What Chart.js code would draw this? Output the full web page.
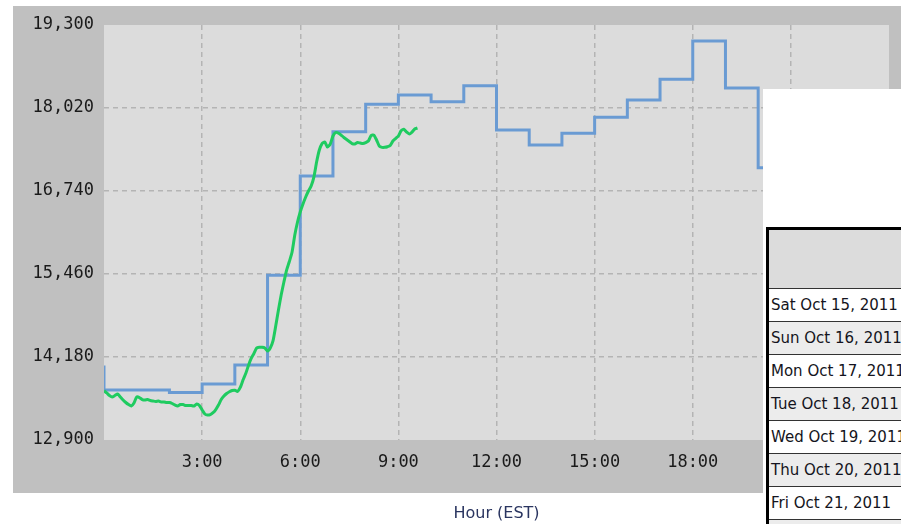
<!DOCTYPE html>
<html>
<head>
<meta charset="utf-8">
<script src="https://cdn.jsdelivr.net/npm/chart.js@4.4.1/dist/chart.umd.min.js"></script>
<style>
  html, body { margin:0; padding:0; background:#fff; }
  body { width:901px; height:524px; overflow:hidden; position:relative; }
  #c { position:absolute; left:0; top:0; }
  #box { position:absolute; left:763px; top:89px; width:200px; height:440px; background:#fff; }
  #tbl { position:absolute; left:3px; top:138px; width:190px; border-top:3px solid #000; border-left:3px solid #000;
         font-family:"DejaVu Sans", sans-serif; font-size:15px; color:#141420; }
  #tbl .hd { height:58px; background:#dcdcdc; border-bottom:1px solid #333; }
  #tbl .r { height:32px; line-height:32px; border-bottom:1px solid #333; padding-left:2px; white-space:nowrap; }
  #tbl .r.alt { background:#ececec; }
</style>
</head>
<body>
<canvas id="c" width="901" height="524"></canvas>
<div id="box"><div id="tbl"></div></div>
<script>
// ---- data ----
const blueHours = [0, 0, 1, 2, 3, 4, 5, 6, 7, 8, 9, 10, 11, 12, 13, 14, 15, 16, 17, 18, 19, 20, 21, 22, 23, 24];
// value reached at each listed hour (held during the hour that ends there)
const blueValues = [14050, 13671, 13671, 13671, 13632, 13764, 14057, 15440, 16971, 17654, 18077, 18220, 18117,
  18363, 17680, 17449, 17629, 17876, 18143, 18462, 19053, 18328, 17100, 16400, 15600, 14800];

// green: 5-minute readings from 0:00
const greenValues = [
  13660, 13625, 13586, 13563, 13586, 13609, 13563, 13517, 13478, 13447, 13424, 13471,
  13563, 13555, 13524, 13517, 13524, 13509, 13501, 13494, 13501, 13486, 13486, 13478,
  13478, 13463, 13440, 13424, 13447, 13447, 13432, 13432, 13432, 13424, 13455, 13432,
  13363, 13301, 13286, 13293, 13321, 13370, 13440, 13524, 13578, 13617, 13645, 13663,
  13668, 13648, 13710, 13825, 13925, 14049, 14157, 14234, 14319, 14329, 14329, 14319,
  14272, 14319, 14427, 14658, 14905, 15136, 15336, 15521, 15652, 15799, 16061, 16262,
  16416, 16539, 16647, 16740, 16817, 16955, 17187, 17372, 17472, 17495, 17418, 17464,
  17588, 17642, 17634, 17603, 17565, 17534, 17503, 17472, 17464, 17487, 17480, 17472,
  17487, 17511, 17595, 17603, 17526, 17433, 17413, 17413, 17423, 17441, 17511, 17549,
  17588, 17669, 17691, 17649, 17619, 17649, 17696, 17711
];
const greenMinutes = greenValues.map((v, i) => i * 5);

const hourTicks = [0, 3, 6, 9, 12, 15, 18, 21, 24];
const hourLabels = ['', '3:00', '6:00', '9:00', '12:00', '15:00', '18:00', '21:00', ''];
const valueTicks = [12900, 14180, 15460, 16740, 18020, 19300];
const valueLabels = ['12,900', '14,180', '15,460', '16,740', '18,020', '19,300'];
const xTitle = 'Hour (EST)';
const tableDates = ['Sat Oct 15, 2011', 'Sun Oct 16, 2011', 'Mon Oct 17, 2011', 'Tue Oct 18, 2011',
  'Wed Oct 19, 2011', 'Thu Oct 20, 2011', 'Fri Oct 21, 2011', ''];

// ---- table ----
const tbl = document.getElementById('tbl');
let html = '<div class="hd"></div>';
tableDates.forEach((d, i) => { html += '<div class="r' + (i % 2 ? ' alt' : '') + '">' + d + '</div>'; });
tbl.innerHTML = html;

// ---- chart ----
const bgPlugin = {
  id: 'bg',
  beforeDraw(chart) {
    const ctx = chart.ctx, a = chart.chartArea;
    ctx.save();
    ctx.fillStyle = '#ffffff';
    ctx.fillRect(0, 0, chart.width, chart.height);
    ctx.fillStyle = '#c0c0c0';
    ctx.fillRect(13, 6, chart.width - 13, 487);
    ctx.fillStyle = '#dcdcdc';
    ctx.fillRect(a.left, a.top, a.right - a.left, a.bottom - a.top);
    ctx.restore();
  }
};

const gridColor = (ctx) => {
  const v = ctx.tick ? ctx.tick.value : null;
  const s = ctx.scale;
  if (v === s.min || v === s.max) return 'rgba(0,0,0,0)';
  return '#b4b4b4';
};

new Chart(document.getElementById('c'), {
  type: 'line',
  data: {
    datasets: [
      {
        label: 'today',
        data: greenMinutes.map((m, i) => ({ x: m / 60, y: greenValues[i] })),
        borderColor: '#1fcb60',
        borderWidth: 3,
        pointRadius: 0,
        tension: 0.2,
        fill: false
      },
      {
        label: 'forecast',
        data: blueHours.map((h, i) => ({ x: h, y: blueValues[i] })),
        borderColor: '#6a9bd3',
        borderWidth: 3,
        pointRadius: 0,
        stepped: 'after',
        fill: false
      }
    ]
  },
  options: {
    responsive: false,
    animation: false,
    devicePixelRatio: 1,
    layout: { padding: { left: 0, top: 25, right: 8, bottom: 0 } },
    plugins: { legend: { display: false }, tooltip: { enabled: false } },
    scales: {
      x: {
        type: 'linear',
        min: 0, max: 24,
        afterBuildTicks: (s) => { s.ticks = hourTicks.map(v => ({ value: v })); },
        afterFit: (s) => { s.height = 84; },
        ticks: {
          callback: (v) => hourLabels[hourTicks.indexOf(v)] ?? '',
          font: { family: 'DejaVu Sans Mono', size: 17 },
          color: '#1a1a1a',
          padding: 12,
          maxRotation: 0,
          autoSkip: false
        },
        grid: { color: gridColor, lineWidth: 1.5, drawTicks: false },
        border: { display: false, dash: [5, 4] },
        title: {
          display: true, text: xTitle, color: '#2a3560',
          font: { family: 'DejaVu Sans', size: 16 },
          padding: { top: 0, bottom: 1 }
        }
      },
      y: {
        type: 'linear',
        min: 12900, max: 19300,
        afterBuildTicks: (s) => { s.ticks = valueTicks.map(v => ({ value: v })); },
        afterFit: (s) => { s.width = 104; },
        ticks: {
          callback: (v) => valueLabels[valueTicks.indexOf(v)] ?? '',
          font: { family: 'DejaVu Sans Mono', size: 17 },
          color: '#1a1a1a',
          padding: 10,
          autoSkip: false
        },
        grid: { color: gridColor, lineWidth: 1.5, drawTicks: false },
        border: { display: false, dash: [5, 4] }
      }
    }
  },
  plugins: [bgPlugin]
});
</script>
</body>
</html>
